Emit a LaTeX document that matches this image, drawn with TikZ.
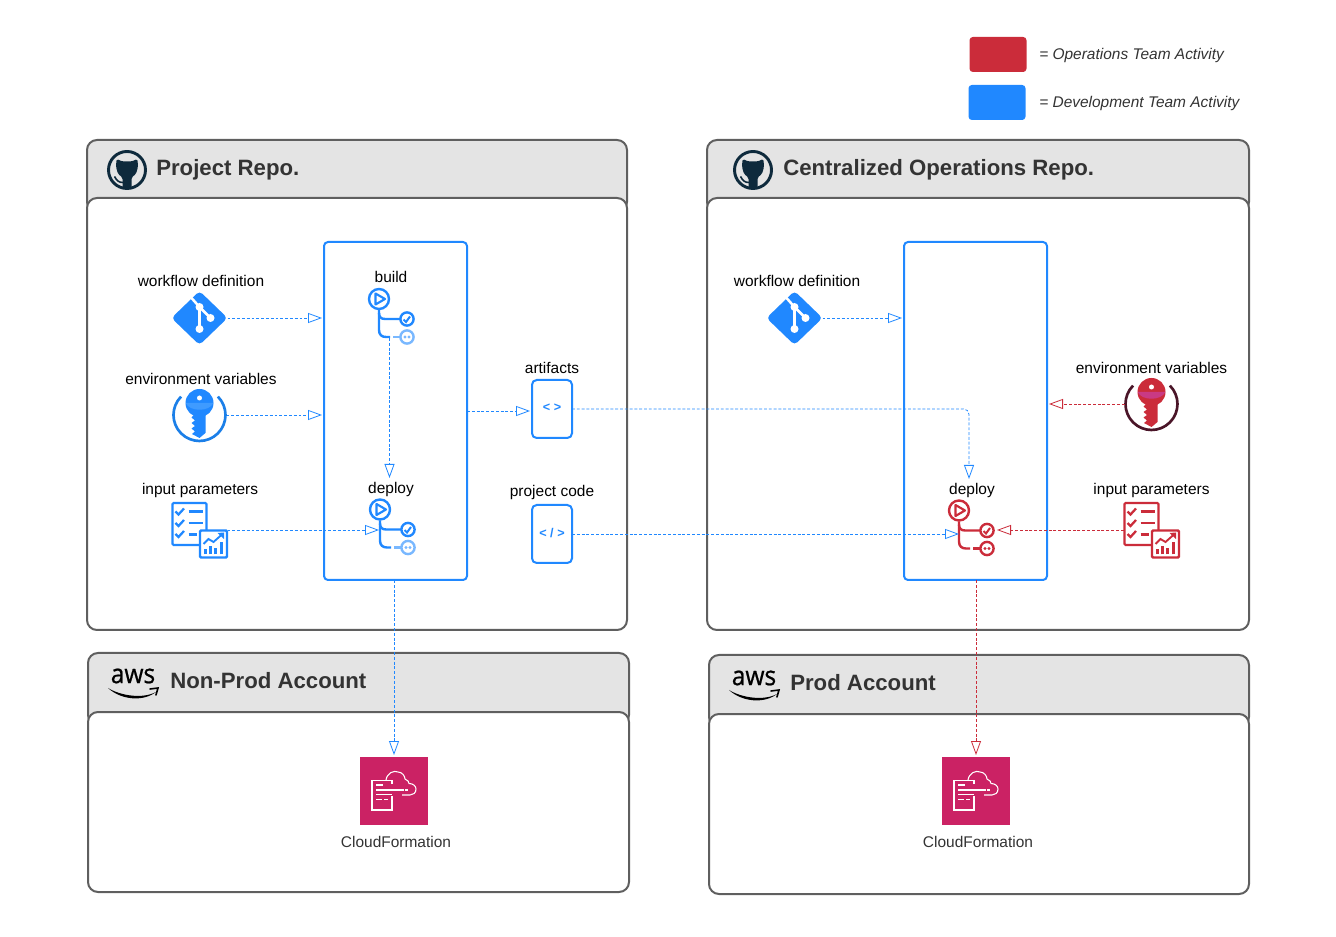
\documentclass[tikz,border=0pt]{standalone}
\usepackage{xcolor}
\usepackage{fontspec}
\usepackage{tikz}
\usetikzlibrary{arrows.meta}
\setmainfont{Liberation Sans}
\newfontfamily\awsfont[FakeBold=0.8]{Open Sans}

\definecolor{devblue}{HTML}{2088FF}
\definecolor{devpale}{HTML}{79B8FF}
\definecolor{keyband}{HTML}{3F9BFF}
\definecolor{ringblue}{HTML}{1B7FE8}
\definecolor{opsred}{HTML}{CB2C3A}
\definecolor{opsband}{HTML}{C93A84}
\definecolor{ringdark}{HTML}{4A1528}
\definecolor{panelline}{HTML}{5F5F5F}
\definecolor{panelhead}{HTML}{E4E4E4}
\definecolor{inktext}{HTML}{333333}
\definecolor{ghnavy}{HTML}{0E2A3C}
\definecolor{cfnpink}{HTML}{CB2264}

\tikzset{
  headpanel/.style={rectangle, rounded corners=7.5pt, draw=panelline, fill=panelhead, line width=1.5pt, inner sep=0pt, outer sep=0pt},
  bodypanel/.style={rectangle, rounded corners=7.5pt, draw=panelline, fill=white, line width=1.5pt, inner sep=0pt, outer sep=0pt},
  pipebox/.style={rectangle, rounded corners=3pt, draw=devblue, line width=1.5pt, minimum width=107.25pt, minimum height=253.5pt, inner sep=0pt, outer sep=0pt},
  codebox/.style={rectangle, rounded corners=3.5pt, draw=devblue, line width=1.5pt, minimum width=30pt, minimum height=43.5pt, inner sep=0pt, outer sep=0pt, text=devblue, font=\fontsize{9.5}{11}\selectfont\bfseries},
  swatch/.style={rectangle, rounded corners=2.5pt, minimum width=42.75pt, minimum height=26.25pt, inner sep=0pt},
  iconbox/.style={inner sep=0pt, outer sep=0pt, minimum width=#1},
  cfnbox/.style={rectangle, fill=cfnpink, minimum size=51pt, inner sep=0pt, outer sep=0pt},
  label/.style={font=\fontsize{11.6}{13}\selectfont, inner sep=0pt},
  title/.style={font=\fontsize{16.65}{19}\selectfont\bfseries, text=inktext, anchor=west, inner sep=0pt},
  legendtext/.style={font=\fontsize{11.6}{13}\selectfont\itshape, text=inktext, anchor=west, inner sep=0pt},
  devflow/.style={draw=devblue, line width=0.6pt, dash pattern=on 2.2pt off 1.4pt, shorten >=1.5pt, -{Triangle[open, length=10.5pt, width=7.5pt, line width=0.6pt]}},
  opsflow/.style={devflow, draw=opsred},
  pics/gitdiamond/.style={code={
    \fill[#1, rounded corners=3pt] (0,-27) -- (28,0) -- (0,27) -- (-28,0) -- cycle;
    \draw[white, line width=1.9pt] (-8,-20) -- (0,-11) -- (0,11);
    \draw[white, line width=1.9pt] (0,-11) -- (11,0);
    \fill[white] (0,-11) circle (4) (0,11) circle (4) (11,0) circle (4);
  }},
  pics/keyicon/.style n args={3}{code={
    \draw[#3, line width=2pt] (-18.4,-18.4) arc (225:-45:26);
    \fill[#1] (0,-12) circle (14);
    \fill[#2] (-13.8,-12) .. controls (-10,-3) and (10,-3) .. (13.8,-12) -- cycle;
    \fill[#1] (-5.5,-4) -- (6,-4) -- (6,18) -- (0,23) -- (-7.5,19) -- (-4.5,16.5) -- (-8,13.5) -- (-4.5,11) -- (-8,8) -- (-4.5,5.5) -- (-8,2.5) -- (-5.5,0) -- cycle;
    \fill[white] (0,-17) circle (2.5);
  }},
  pics/listicon/.style={code={
    \draw[#1, line width=1.6pt, rounded corners=0.8pt] (-27,-27) rectangle (7,15);
    \foreach \rowy in {-18.5,-7,4} {
      \draw[#1, line width=1.7pt] (-24,\rowy) -- (-21,\rowy+3) -- (-15.5,\rowy-3);
    }
    \draw[#1, line width=1.6pt] (-11,-18.5) -- (3.5,-18.5) (-11,-7) -- (3.5,-7) (-11,4.5) -- (-2.5,4.5);
    \draw[#1, fill=white, line width=1.8pt, rounded corners=0.8pt] (0.5,0.5) rectangle (27.5,27.5);
    \draw[#1, line width=1.4pt] (4,14) -- (9,9) -- (14,12) -- (23,4);
    \fill[#1] (24.5,2.5) -- (24.5,9) -- (18,3) -- cycle;
    \draw[#1, line width=1.7pt] (6,24.5) -- (6,19) (11,24.5) -- (11,16) (16,24.5) -- (16,18) (22,24.5) -- (22,12);
  }},
  pics/flowicon/.style 2 args={code={
    \draw[#1, line width=1.8pt] (0,0) circle (10);
    \draw[#1, line width=1.6pt, line join=round] (-3.5,-5.5) -- (6,0) -- (-3.5,5.5) -- cycle;
    \draw[#1, line width=1.8pt] (0,11) -- (0,31) .. controls (0,36) and (3,38) .. (7,38) -- (11,38);
    \draw[#1, line width=1.8pt] (0,14) .. controls (0,18) and (2,20) .. (6,20) -- (21,20);
    \draw[#2, line width=1.8pt] (14,38) -- (21,38);
    \draw[#1, line width=1.8pt, fill=white] (28,20) circle (6.6);
    \draw[#1, line width=1.5pt] (24.5,20.5) -- (27,23) -- (31,17.5);
    \draw[#2, line width=1.8pt, fill=white] (28,38) circle (6.6);
    \fill[#2] (26,38) circle (1.7) (30,38) circle (1.7);
  }},
  pics/ghlogo/.style={code={
    \draw[ghnavy, line width=2.2pt] (0,0) circle (18.5);
    \fill[ghnavy, rounded corners=1.2pt] (-10.5,-11) -- (-4.5,-8.5) -- (4.5,-8.5) -- (10.5,-11) -- (11,-3) -- (9,4) -- (4.5,7.5) -- (4.5,18) -- (-4.5,18) -- (-4.5,7.5) -- (-9,4) -- (-11,-3) -- cycle;
    \draw[ghnavy, line width=1.2pt] (-12.5,6.5) .. controls (-10,11) and (-8,12.5) .. (-4,12.5);
  }},
  pics/awslogo/.style={code={
    \fill[black] (-25,2) .. controls (-12,10) and (10,13) .. (23,6) .. controls (10,16) and (-12,14) .. cycle;
    \draw[black, line width=1.2pt, line cap=round] (17,3) -- (25,2) -- (23,9);
  }},
  pics/cfnglyph/.style={code={
    \draw[white, line width=0.8pt] (-2,-7) -- (-2,-10.5) -- (-22,-10.5) -- (-22,19) -- (-2,19) -- (-2,5);
    \draw[white, line width=0.8pt] (-8,-11) .. controls (-7,-18) and (0,-21) .. (4,-19) .. controls (8,-19) and (11,-15) .. (11,-12) .. controls (14,-11) and (15,-9) .. (15,-7.5) .. controls (19,-7.5) and (22,-5) .. (22,-2) .. controls (22,2) and (19,4) .. (16,4) -- (8,4);
    \draw[white, line width=0.9pt] (-18,-6) -- (-11,-6) (-18,-1) -- (9.5,-1) (11,-1) -- (14,-1) (-18,3.5) -- (-2,3.5) (-18,8.5) -- (-12,8.5) (-10,8.5) -- (-6,8.5);
  }}
}

\begin{document}
\begin{tikzpicture}[x=0.75pt, y=-0.75pt]
    \useasboundingbox (0,0) rectangle (1336,937);

    \node (swatchops) [swatch, fill=opsred] at (998,54.5) {};
    \node (swatchdev) [swatch, fill=devblue] at (997,102.5) {};
    \node (legendops) [legendtext] at (1039,56) {= Operations Team Activity};
    \node (legenddev) [legendtext] at (1039,104) {= Development Team Activity};

    \node (headdev) [headpanel, minimum width=405pt, minimum height=54pt] at (357,176) {};
    \node (repodev) [bodypanel, minimum width=405pt, minimum height=324pt] at (357,414) {};
    \node (headops) [headpanel, minimum width=406.5pt, minimum height=54pt] at (978,176) {};
    \node (repoops) [bodypanel, minimum width=406.5pt, minimum height=324pt] at (978,414) {};
    \node (headnp) [headpanel, minimum width=405.75pt, minimum height=54pt] at (358.5,689) {};
    \node (acctnp) [bodypanel, minimum width=405.75pt, minimum height=135pt] at (358.5,802) {};
    \node (headprod) [headpanel, minimum width=405pt, minimum height=54pt] at (979,691) {};
    \node (acctprod) [bodypanel, minimum width=405pt, minimum height=135pt] at (979,804) {};

    \node (titledev) [title] at (156,169.5) {Project Repo.};
    \node (titleops) [title] at (783,169.5) {Centralized Operations Repo.};
    \node (titlenp) [title] at (170,681) {Non-Prod Account};
    \node (titleprod) [title] at (790,683) {Prod Account};

    \pic at (127,170) {ghlogo};
    \pic at (753,170) {ghlogo};
    \pic at (133,686) {awslogo};
    \pic at (754,688) {awslogo};
    \node (awsnp) [inner sep=0pt, font=\fontsize{20}{20}\awsfont, xscale=0.92] at (133,676) {aws};
    \node (awsprod) [inner sep=0pt, font=\fontsize{20}{20}\awsfont, xscale=0.92] at (754,678) {aws};

    \node (pipedev) [pipebox] at (395.5,411) {};
    \node (pipeops) [pipebox] at (975.5,411) {};
    \node (artifacts) [codebox] at (552,409) {\raisebox{1.5pt}{< >}};
    \node (projcode) [codebox] at (552,534) {\raisebox{1.5pt}{< / >}};
    \node (artlabel) [label] at (552,368) {artifacts};
    \node (codelabel) [label] at (552,493) {project code};

    \node (gitdev) [iconbox=42pt, minimum height=39pt] at (199.5,318) {};
    \node (keydev) [iconbox=40.5pt, minimum height=40pt] at (199.5,415) {};
    \node (listdev) [iconbox=42pt, minimum height=42pt] at (199.5,530) {};
    \node (gitops) [iconbox=42pt, minimum height=39pt] at (794.5,318) {};
    \node (keyops) [iconbox=40.5pt, minimum height=40pt] at (1151.5,404) {};
    \node (listops) [iconbox=42pt, minimum height=42pt] at (1151.5,530) {};
    \pic at (gitdev) {gitdiamond=devblue};
    \pic at (keydev) {keyicon={devblue}{keyband}{ringblue}};
    \pic at (listdev) {listicon=devblue};
    \pic at (gitops) {gitdiamond=devblue};
    \pic at (keyops) {keyicon={opsred}{opsband}{ringdark}};
    \pic at (listops) {listicon=opsred};

    \node (gitdevlabel) [label, above of=gitdev, node distance=27.75pt, xshift=1.1pt] {workflow definition};
    \node (keydevlabel) [label, above of=keydev, node distance=27pt, xshift=1.1pt] {environment variables};
    \node (listdevlabel) [label, above of=listdev, node distance=29.5pt, xshift=0.4pt] {input parameters};
    \node (gitopslabel) [label, above of=gitops, node distance=27.75pt, xshift=1.9pt] {workflow definition};
    \node (keyopslabel) [label, above of=keyops, node distance=27pt] {environment variables};
    \node (listopslabel) [label, above of=listops, node distance=29.5pt] {input parameters};

    \node (buildflow) [iconbox=15pt, minimum height=15pt] at (379,299) {};
    \node (deployflow) [iconbox=15pt, minimum height=15pt] at (380,509.5) {};
    \node (opsflow) [iconbox=15pt, minimum height=15pt] at (959,510.5) {};
    \pic at (buildflow) {flowicon={devblue}{devpale}};
    \pic at (deployflow) {flowicon={devblue}{devpale}};
    \pic at (opsflow) {flowicon={opsred}{opsred}};
    \node (buildlabel) [label] at (391,277) {build};
    \node (deploylabel) [label] at (391,490) {deploy};
    \node (opslabel) [label] at (972,491) {deploy};

    \node (cfnnp) [cfnbox] at (394,791) {};
    \node (cfnprod) [cfnbox] at (976,791) {};
    \pic at (cfnnp) {cfnglyph};
    \pic at (cfnprod) {cfnglyph};
    \node (cfnnplabel) [label, text=inktext] at (396,842) {CloudFormation};
    \node (cfnprodlabel) [label, text=inktext] at (978,842) {CloudFormation};

    \coordinate (buildtail) at (389.5,338);
    \coordinate (deploytop) at (389.5,480);
    \coordinate (deployjoin) at (381,530);
    \coordinate (opstop) at (969,481);
    \coordinate (opsjoin) at (961,534);
    \coordinate (opscheck) at (995,530);

    \draw[devflow] (gitdev.east) -- (gitdev.east -| pipedev.west);
    \draw[devflow] (keydev.east) -- (keydev.east -| pipedev.west);
    \draw[devflow] (listdev.east) -- (deployjoin);
    \draw[devflow] (buildtail) -- (deploytop);
    \draw[devflow] (pipedev.east) -- (artifacts.west |- pipedev.east);
    \draw[devflow, rounded corners=4pt] (artifacts.east) -- (artifacts.east -| opstop) -- (opstop);
    \draw[devflow] (projcode.east) -- (opsjoin);
    \draw[devflow] (gitops.east) -- (gitops.east -| pipeops.west);
    \draw[devflow] (pipedev.south -| cfnnp.north) -- (cfnnp.north);
    \draw[opsflow] (keyops.west) -- (keyops.west -| pipeops.east);
    \draw[opsflow] (listops.west) -- (opscheck);
    \draw[opsflow] (pipeops.south -| cfnprod.north) -- (cfnprod.north);
\end{tikzpicture}
\end{document}
